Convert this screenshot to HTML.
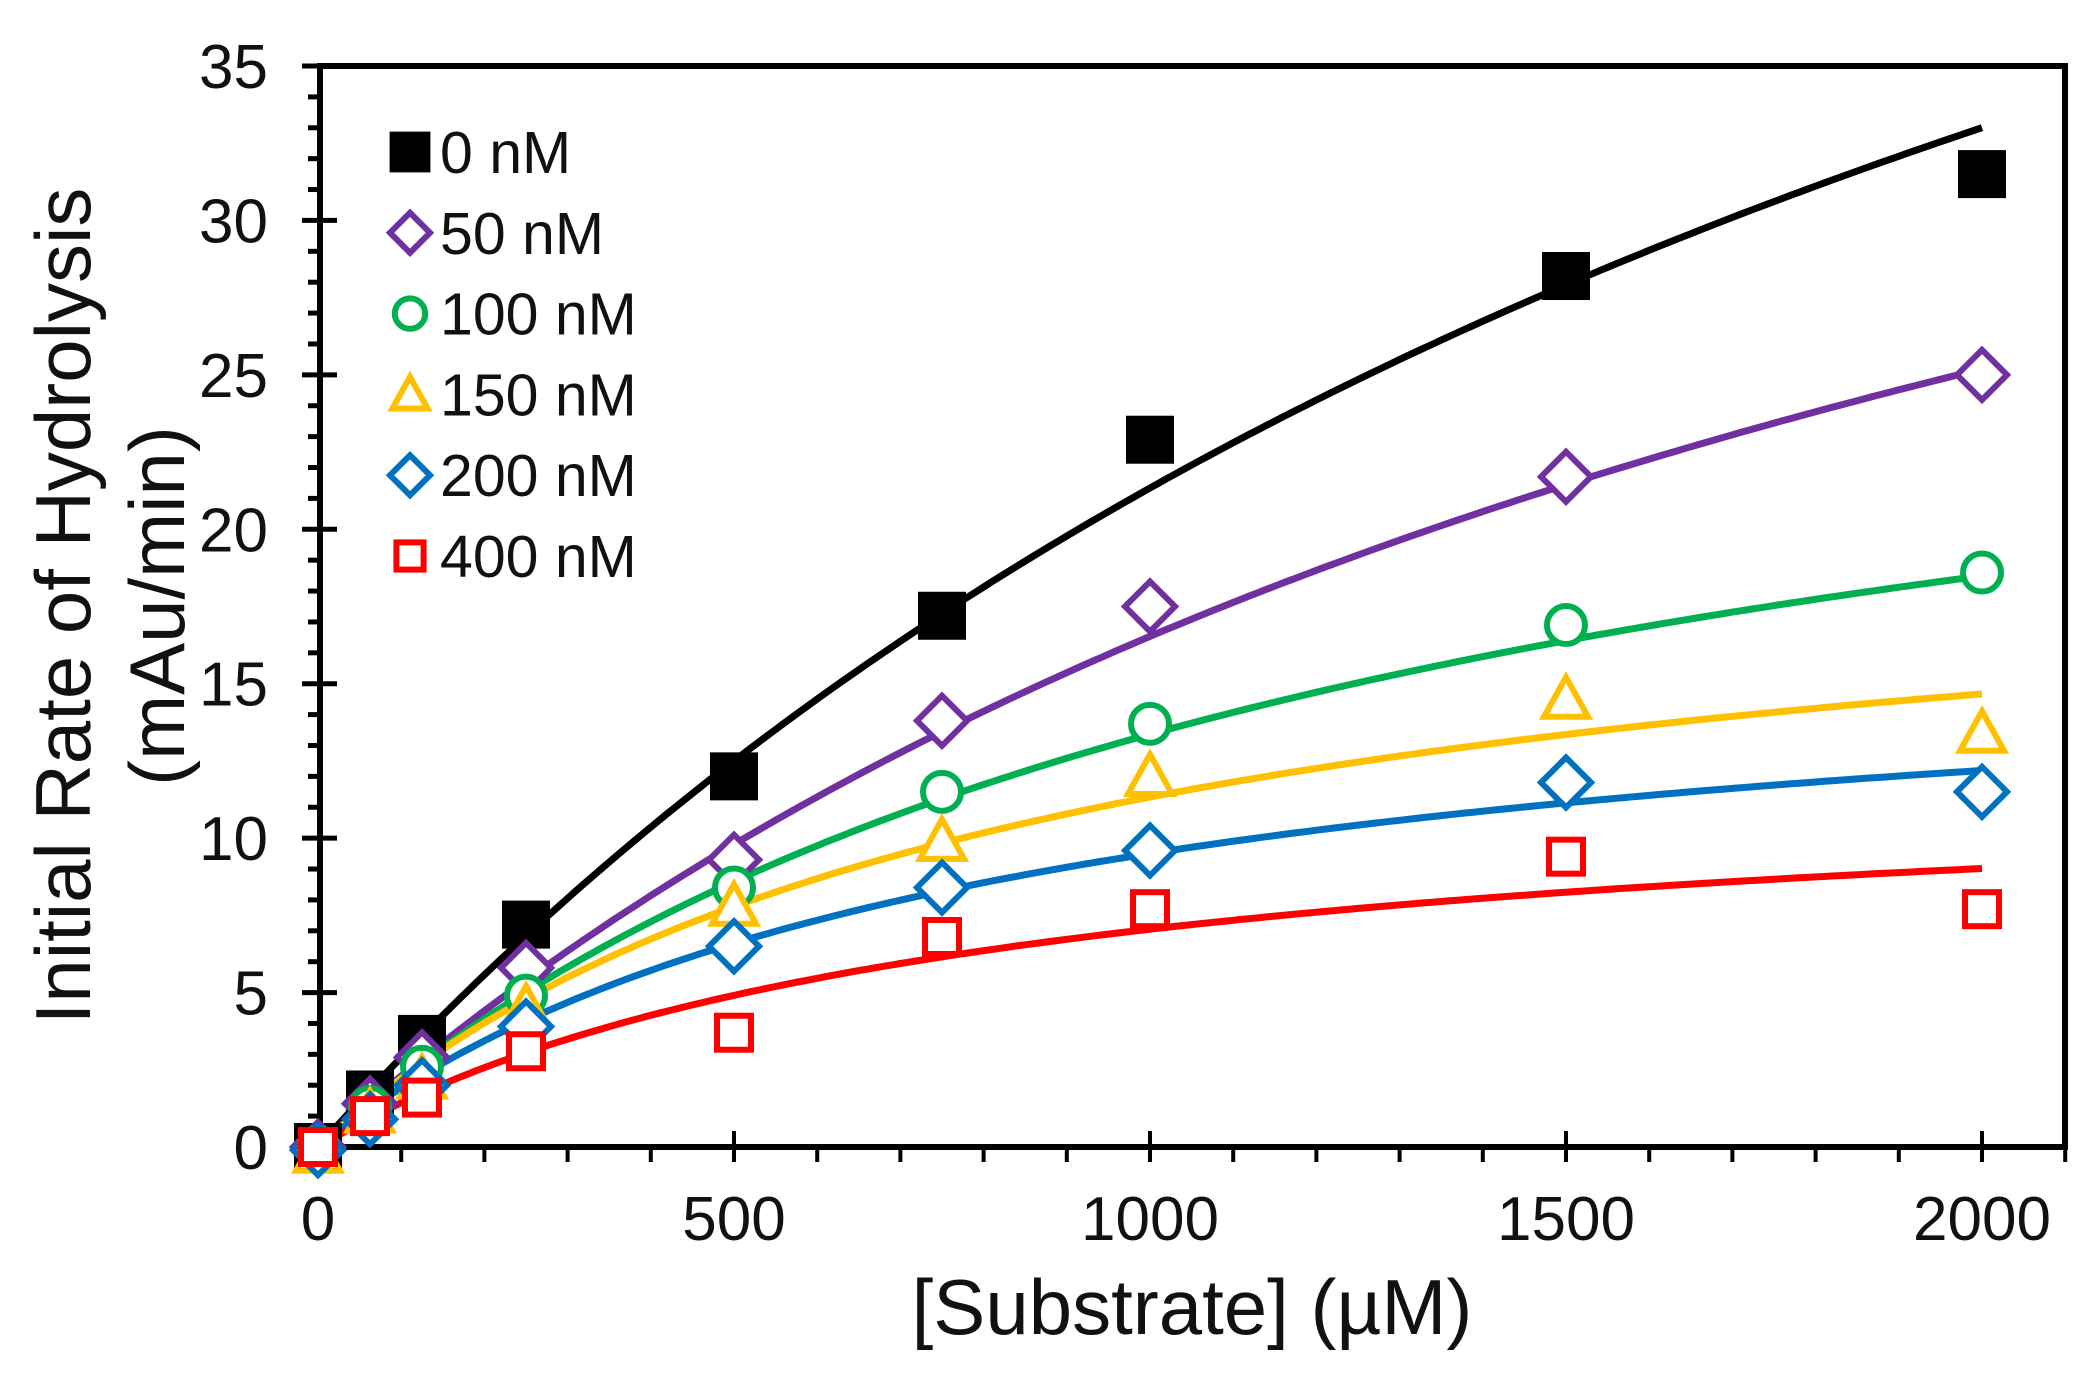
<!DOCTYPE html>
<html><head><meta charset="utf-8"><style>
body{margin:0;background:#fff}
svg{display:block;font-family:"Liberation Sans",sans-serif}
</style></head><body>
<svg id="chart" width="2100" height="1382" viewBox="0 0 2100 1382" xmlns="http://www.w3.org/2000/svg">
<g id="axes"></g>
<g id="curves"></g>
<g id="points"></g>
<g id="legend"></g>
<text transform="translate(90,606) rotate(-90)" text-anchor="middle" font-size="78" fill="#111">Initial Rate of Hydrolysis</text>
<text transform="translate(184,606) rotate(-90)" text-anchor="middle" font-size="78" fill="#111">(mAu/min)</text>
<text x="1192" y="1334" text-anchor="middle" font-size="78" fill="#111">[Substrate] (µM)</text>
</svg>
<script>
const xValues=[0,62.5,125,250,500,750,1000,1500,2000];
const seriesNames=["0 nM","50 nM","100 nM","150 nM","200 nM","400 nM"];
const s0=[0,1.7,3.5,7.2,12.0,17.2,22.9,28.2,31.5];
const s50=[0,1.4,2.9,5.8,9.3,13.8,17.5,21.7,25.0];
const s100=[0,1.3,2.6,4.9,8.4,11.5,13.7,16.9,18.6];
const s150=[-0.2,1.1,2.2,4.5,7.8,9.9,12.0,14.5,13.4];
const s200=[-0.1,0.9,2.0,3.9,6.5,8.4,9.6,11.8,11.5];
const s400=[0,1.0,1.6,3.1,3.7,6.8,7.7,9.4,7.7];
const fitVmax=[72.8,52.9,30.0,20.8,17.0,12.5];
const fitKm=[2412,2200,1245,836,789,773];
const yTicks=[0,5,10,15,20,25,30,35];
const xTicks=[0,500,1000,1500,2000];

const colors=["#000","#7030a0","#00b050","#ffc000","#0070c0","#ff0000"];
const shapes=["fsquare","diamond","circle","triangle","diamond","square"];
const allSeries=[s0,s50,s100,s150,s200,s400];
const X=v=>318+v*(1982-318)/2000;
const Y=v=>1147-v*(1147-66)/35;
const NS="http://www.w3.org/2000/svg";
function mk(tag,attrs,parent){const e=document.createElementNS(NS,tag);for(const k in attrs)e.setAttribute(k,attrs[k]);parent.appendChild(e);return e;}
const axes=document.getElementById('axes');
let f=mk('rect',{x:320,y:66,width:1745,height:1081,fill:'none',stroke:'#000','stroke-width':6},axes);


for(let v=0;v<=35;v++){
  const major=v%5===0;
  let t=mk('line',{x1:major?302:308,x2:major?337:320,y1:Y(v),y2:Y(v),stroke:'#000','stroke-width':5},axes);
  
  
}
yTicks.forEach(v=>{
  let t=mk('text',{x:268,y:Y(v)+22,'text-anchor':'end','font-size':62,fill:'#111'},axes);t.textContent=v;
  
  
});
for(let v=0;v<=2100;v+=100){
  const major=v%500===0;
  let t=mk('line',{x1:X(v),x2:X(v),y1:major?1131:1147,y2:1162,stroke:'#000','stroke-width':4},axes);
  
  
}
xTicks.forEach(v=>{
  let t=mk('text',{x:X(v),y:1240,'text-anchor':'middle','font-size':62,fill:'#111'},axes);t.textContent=v;
  
  
});
const cg=document.getElementById('curves');
fitVmax.forEach((vm,i)=>{
  let d='';
  for(let x=0;x<=2000;x+=10){const v=vm*x/(fitKm[i]+x);d+=(x?'L':'M')+X(x).toFixed(1)+','+Y(v).toFixed(1);}
  let p=mk('path',{d:d,fill:'none',stroke:colors[i],'stroke-width':7},cg);
  
  
});
function marker(shape,cx,cy,col,parent,sc){
  sc=sc||1;let e;
  if(shape==='fsquare')e=mk('rect',{x:cx-24*sc,y:cy-24*sc,width:48*sc,height:48*sc,fill:col},parent);
  else if(shape==='square')e=mk('rect',{x:cx-17*sc,y:cy-17*sc,width:34*sc,height:34*sc,fill:'#fff',stroke:col,'stroke-width':6},parent);
  else if(shape==='diamond'){const r=25*sc;e=mk('polygon',{points:`${cx},${cy-r} ${cx+r},${cy} ${cx},${cy+r} ${cx-r},${cy}`,fill:'#fff',stroke:col,'stroke-width':6},parent);}
  else if(shape==='circle')e=mk('circle',{cx:cx,cy:cy,r:19*sc,fill:'#fff',stroke:col,'stroke-width':6},parent);
  else {const r=22*sc;e=mk('polygon',{points:`${cx},${cy-r} ${cx+r},${cy+r*0.8} ${cx-r},${cy+r*0.8}`,fill:'#fff',stroke:col,'stroke-width':6},parent);}
  return e;
}
const pg=document.getElementById('points');
allSeries.forEach((s,i)=>{
  s.forEach((v,j)=>{
    const e=marker(shapes[i],X(xValues[j]),Y(v),colors[i],pg);
    
    
  });
});
const lg=document.getElementById('legend');
seriesNames.forEach((n,i)=>{
  const y=152+i*80.8;
  const m=marker(shapes[i],410,y,colors[i],lg,shapes[i]==='fsquare'?0.85:0.8);
  
  
  const t=mk('text',{x:440,y:y+21,'font-size':59,fill:'#111'},lg);t.textContent=n;
  
  
});
</script>
</body></html>
